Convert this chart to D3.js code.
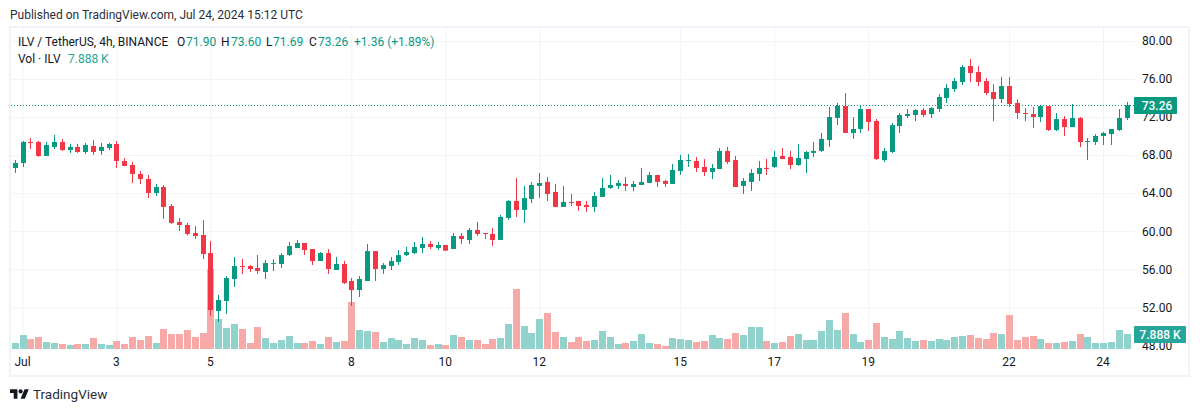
<!DOCTYPE html>
<head>
    <meta charset="UTF-8">
    <script src="https://cdnjs.cloudflare.com/ajax/libs/d3/7.8.5/d3.min.js"></script>
    <style>
        html, body { margin: 0; padding: 0; background: #fff; }
        svg { display: block; }
        text { font-family: Roboto, sans-serif; }
    </style>
</head>

<body>
    <svg id="chart"></svg>

    <script>
        // ********** DATA (4h candles) **********
        var opens = [66.65,67.17,69.38,69.38,67.91,68.86,69.38,68.54,68.86,68.33,68.96,68.44,68.75,69.17,67.38,66.96,66.02,65.49,64.02,64.65,62.65,60.97,60.65,
            59.81,59.60,57.70,51.61,52.66,54.97,56.34,56.34,56.13,55.71,56.55,56.55,57.49,58.23,58.76,58.12,56.86,57.70,55.92,56.55,54.76,53.81,54.76,57.91,56.02,56.34,56.76,57.49,57.70,58.23,58.65,
            58.24,58.55,58.13,59.50,59.08,60.13,59.81,59.71,59.08,61.39,63.18,62.23,63.39,64.76,65.18,64.13,62.55,63.07,63.18,62.76,62.55,63.60,64.55,64.76,64.97,64.65,64.86,65.07,65.91,
            65.28,64.97,66.33,67.38,67.38,66.75,66.23,66.54,68.44,67.49,64.76,65.18,66.02,66.65,66.75,67.91,67.80,66.96,67.59,68.23,68.44,69.59,71.91,73.17,70.33,70.75,72.85,71.59,
            67.48,68.33,71.06,72.11,72.22,72.74,72.32,72.85,74.00,74.95,75.69,77.37,76.74,75.79,74.63,73.90,75.26,73.48,72.43,72.32,72.00,73.16,70.64,71.79,70.95,71.90,69.38,69.38,70.01,70.22,70.64,71.90];
        var highs = [67.49,69.49,69.80,69.49,69.38,70.12,69.70,69.17,69.17,69.28,69.59,69.28,69.28,69.49,67.70,67.28,66.33,65.91,64.97,64.86,62.86,61.39,60.87,
            60.54,61.17,58.97,53.29,55.29,57.28,57.07,56.44,57.49,56.97,57.07,57.70,58.86,59.07,58.76,58.12,57.81,58.12,57.28,56.86,55.08,55.29,58.65,57.91,56.65,57.28,58.02,58.34,58.86,59.39,58.97,
            58.87,58.55,59.81,59.81,60.34,60.97,59.81,60.34,61.71,63.28,65.60,64.76,65.18,66.12,65.70,64.97,64.76,63.91,63.18,63.18,64.13,65.60,65.91,65.39,65.70,65.28,66.65,66.23,65.91,
            65.39,67.07,68.02,68.12,67.80,67.59,67.07,68.75,68.86,67.91,65.60,66.54,67.38,67.59,68.44,68.75,68.44,69.17,68.44,69.38,70.33,73.06,73.48,74.53,72.01,73.17,72.85,71.80,
            68.75,71.37,72.43,72.85,72.85,72.95,73.06,74.42,75.47,76.11,77.47,78.10,77.37,76.11,75.47,76.21,76.21,73.90,72.95,73.06,73.27,73.16,72.43,72.11,73.37,72.00,69.80,70.22,70.43,70.74,72.85,73.60];
        var lows = [66.12,66.75,68.65,67.81,67.91,68.65,68.44,68.23,68.23,68.12,68.02,68.02,68.54,66.65,66.86,65.07,64.97,63.49,63.70,61.29,60.76,60.02,59.55,
            59.18,57.07,51.08,50.45,51.29,54.13,55.50,55.71,55.50,54.97,55.81,56.13,57.39,58.23,57.49,56.44,56.86,55.50,55.92,54.44,52.13,53.08,54.76,54.76,55.50,55.92,56.44,57.39,57.60,57.70,58.13,
            58.03,57.95,58.13,58.66,58.66,59.50,59.18,58.45,59.08,61.18,61.50,60.87,62.97,63.49,63.18,62.55,62.55,62.65,62.13,62.02,62.02,63.60,64.44,64.44,64.23,64.23,64.86,65.07,64.65,
            64.65,64.97,65.91,66.75,66.23,65.81,65.49,66.54,67.07,64.65,63.91,64.23,65.28,65.91,66.65,67.59,66.54,66.86,66.12,67.80,68.33,68.86,71.17,70.33,69.70,70.33,70.54,67.49,
            67.27,68.22,70.32,71.90,71.58,72.00,71.90,72.53,73.48,74.63,75.37,75.69,75.26,74.32,71.58,73.48,73.06,71.79,71.58,70.85,71.48,70.53,70.53,70.01,70.95,68.85,67.48,69.06,69.06,69.06,70.53,71.69];
        var closes = [67.17,69.38,69.28,67.91,69.07,69.38,68.54,68.86,68.33,69.07,68.33,68.86,69.17,67.38,66.86,66.02,65.49,64.02,64.65,62.55,60.87,60.65,59.71,
            59.49,57.60,51.71,52.76,55.08,56.34,56.23,56.02,55.81,56.65,56.65,57.49,58.44,58.76,58.02,56.86,57.70,56.02,56.55,54.55,53.81,54.97,57.91,56.02,56.44,56.86,57.49,57.81,58.34,58.65,58.34,
            58.55,57.95,59.50,59.18,60.13,59.71,59.71,59.08,61.50,63.18,62.23,63.49,64.86,65.07,63.91,62.55,63.07,62.97,62.65,62.55,63.70,64.55,64.86,65.07,64.76,64.97,65.18,65.91,65.18,
            64.97,66.44,67.49,67.49,66.65,66.23,66.65,68.44,67.28,64.65,65.28,66.12,66.65,66.54,67.80,67.59,66.96,67.70,68.33,68.44,69.70,72.01,73.17,70.33,70.75,72.85,71.49,67.59,
            68.43,71.16,72.22,72.32,72.74,72.22,72.95,74.11,75.05,75.79,77.26,76.63,75.69,74.53,73.90,75.26,73.37,72.43,72.32,72.00,73.16,70.64,71.79,70.95,71.90,69.38,69.48,70.01,70.32,70.74,71.90,73.26];
        // volume in thousands of ILV
        var volumes = [3.16,7.36,5.26,6.31,3.68,3.16,2.63,2.10,2.63,2.63,5.78,2.63,2.10,4.21,2.63,6.31,4.73,6.84,3.16,10.52,7.89,7.89,9.99,
            6.31,8.41,42.07,15.78,11.04,13.15,10.52,3.16,11.57,5.78,3.16,4.73,6.84,3.16,3.16,4.21,2.63,6.31,3.68,4.21,24.72,9.99,9.47,8.94,3.68,5.78,4.73,2.63,5.78,4.73,2.10,
            2.63,2.10,7.36,6.31,4.73,4.73,2.63,5.26,5.78,13.15,31.55,12.10,8.41,15.78,18.93,8.94,6.31,3.68,6.31,4.21,4.73,9.47,6.31,2.63,3.16,4.21,7.89,3.16,2.63,
            1.58,5.78,5.26,4.73,3.68,4.21,7.36,5.78,5.26,8.41,7.36,11.57,11.57,4.21,3.16,3.68,6.84,7.89,4.73,4.73,9.47,15.25,9.99,18.93,7.89,3.68,4.73,13.67,
            6.31,5.26,9.47,5.78,4.21,4.73,4.21,5.26,4.73,6.31,6.84,7.36,5.78,5.26,8.41,7.89,17.88,4.73,6.31,6.84,5.26,3.16,3.16,3.68,4.21,7.89,6.31,3.16,3.16,3.68,9.99,7.888];

        var priceTicks = [48, 52, 56, 60, 64, 68, 72, 76, 80];
        var dayIndex = [1, 13, 25, 43, 55, 67, 85, 97, 109, 127, 139];
        var dayLabels = ["Jul", "3", "5", "8", "10", "12", "15", "17", "19", "22", "24"];

        var upColor = "#089981", downColor = "#F23645", gridColor = "#f0f3fa", textColor = "#131722";
        var volUp = "#92d2cc", volDown = "#f7a9a7";

        // ********** SETUP **********
        var width = 1200, height = 412;
        var plotLeft = 11, plotRight = 1134, plotTop = 28, plotBottom = 350;

        var svg = d3.select("#chart").attr("width", width).attr("height", height);

        var x = d3.scaleLinear().domain([0, 142]).range([15.2, 15.2 + 142 * 7.83]);
        var y = d3.scaleLinear().domain([48, 80]).range([345.3, 41]);
        var yVol = d3.scaleLinear().domain([0, 7.888]).range([349, 334]);

        function isUp(i) { return closes[i] >= opens[i]; }
        function px(i) { return Math.floor(x(i)); }

        // frame
        svg.append("rect")
            .attr("x", 10).attr("y", 27).attr("width", 1179).attr("height", 349)
            .style("fill", "#fff").style("stroke", gridColor).style("stroke-width", 2);

        // ********** AXES **********
        var xAxis = d3.axisBottom(x)
            .tickValues(dayIndex)
            .tickFormat(function (d) { return dayLabels[dayIndex.indexOf(d)]; })
            .tickSize(-(plotBottom - plotTop))
            .tickPadding(7);

        var gx = svg.append("g").attr("transform", "translate(0," + plotBottom + ")").call(xAxis);
        gx.select(".domain").remove();
        gx.selectAll("line").style("stroke", gridColor).attr("transform", "translate(-0.5,0)");
        gx.selectAll("text").attr("dx", -1).style("font-size", "12px").style("fill", textColor);

        var yAxis = d3.axisRight(y)
            .tickValues(priceTicks)
            .tickFormat(d3.format(".2f"))
            .tickSize(plotLeft - plotRight)
            .tickPadding(0);

        var gy = svg.append("g").attr("transform", "translate(" + plotRight + ",0)").call(yAxis);
        gy.select(".domain").remove();
        gy.selectAll("line").style("stroke", gridColor);
        gy.selectAll("text").attr("x", 8).style("font-size", "12px").style("fill", textColor);

        // ********** VOLUME **********
        svg.append("g").selectAll("rect")
            .data(volumes)
            .enter().append("rect")
            .attr("x", function (d, i) { return px(i) - 3; })
            .attr("y", function (d) { return yVol(d); })
            .attr("width", 7)
            .attr("height", function (d) { return yVol(0) - yVol(d); })
            .style("fill", function (d, i) { return isUp(i) ? volUp : volDown; });

        // last price line
        svg.append("line")
            .attr("x1", plotLeft).attr("x2", plotRight)
            .attr("y1", Math.round(y(73.26)) + 0.5).attr("y2", Math.round(y(73.26)) + 0.5)
            .style("stroke", upColor)
            .style("stroke-dasharray", "1 2");

        // ********** CANDLES **********
        var candles = svg.append("g").selectAll("g")
            .data(opens)
            .enter().append("g");

        candles.append("rect")
            .attr("x", function (d, i) { return px(i); })
            .attr("y", function (d, i) { return y(highs[i]); })
            .attr("width", 1)
            .attr("height", function (d, i) { return y(lows[i]) - y(highs[i]); })
            .style("fill", function (d, i) { return isUp(i) ? upColor : downColor; });

        candles.append("rect")
            .attr("x", function (d, i) { return px(i) - 2; })
            .attr("y", function (d, i) { return y(Math.max(opens[i], closes[i])); })
            .attr("width", 5)
            .attr("height", function (d, i) { return Math.max(1, Math.abs(y(opens[i]) - y(closes[i]))); })
            .style("fill", function (d, i) { return isUp(i) ? upColor : downColor; });

        // ********** AXIS BADGES **********
        svg.append("rect").attr("x", 1134).attr("y", 97).attr("width", 43).attr("height", 17)
            .attr("rx", 1).style("fill", upColor);
        svg.append("text").attr("x", 1157).attr("y", 110).attr("text-anchor", "middle")
            .style("font-size", "12px").style("font-weight", 500).style("fill", "#fff").text("73.26");

        svg.append("rect").attr("x", 1134).attr("y", 326).attr("width", 52).attr("height", 17)
            .attr("rx", 1).style("fill", "#26a69a");
        svg.append("text").attr("x", 1160).attr("y", 339).attr("text-anchor", "middle")
            .style("font-size", "12px").style("font-weight", 500).style("fill", "#fff").text("7.888 K");

        // ********** TEXTS **********
        function label(xp, yp, txt, color) {
            return svg.append("text").attr("x", xp).attr("y", yp)
                .style("font-size", "12px").style("fill", color || textColor).text(txt);
        }

        label(10, 19, "Published on TradingView.com, Jul 24, 2024 15:12 UTC", "#2a2e39");

        label(18, 46, "ILV / TetherUS, 4h, BINANCE");
        label(177, 46, "O"); label(186, 46, "71.90", upColor);
        label(221, 46, "H"); label(231, 46, "73.60", upColor);
        label(266, 46, "L"); label(273, 46, "71.69", upColor);
        label(309, 46, "C"); label(318, 46, "73.26", upColor);
        label(354, 46, "+1.36 (+1.89%)", upColor);

        label(18, 63, "Vol · ILV");
        label(68, 63, "7.888 K", "#26a69a");

        // logo
        var logo = svg.append("g").attr("transform", "translate(10,387.2) scale(0.53)").style("fill", textColor);
        logo.append("path").attr("d", "M14 22H7V11H0V4h14v18zM28 22h-8l7.5-18h8L28 22z");
        logo.append("circle").attr("cx", 20).attr("cy", 8).attr("r", 4);

        svg.append("text").attr("x", 33).attr("y", 399)
            .style("font-size", "13.5px").style("fill", "#2a2e39").text("TradingView");
    </script>
</body>
